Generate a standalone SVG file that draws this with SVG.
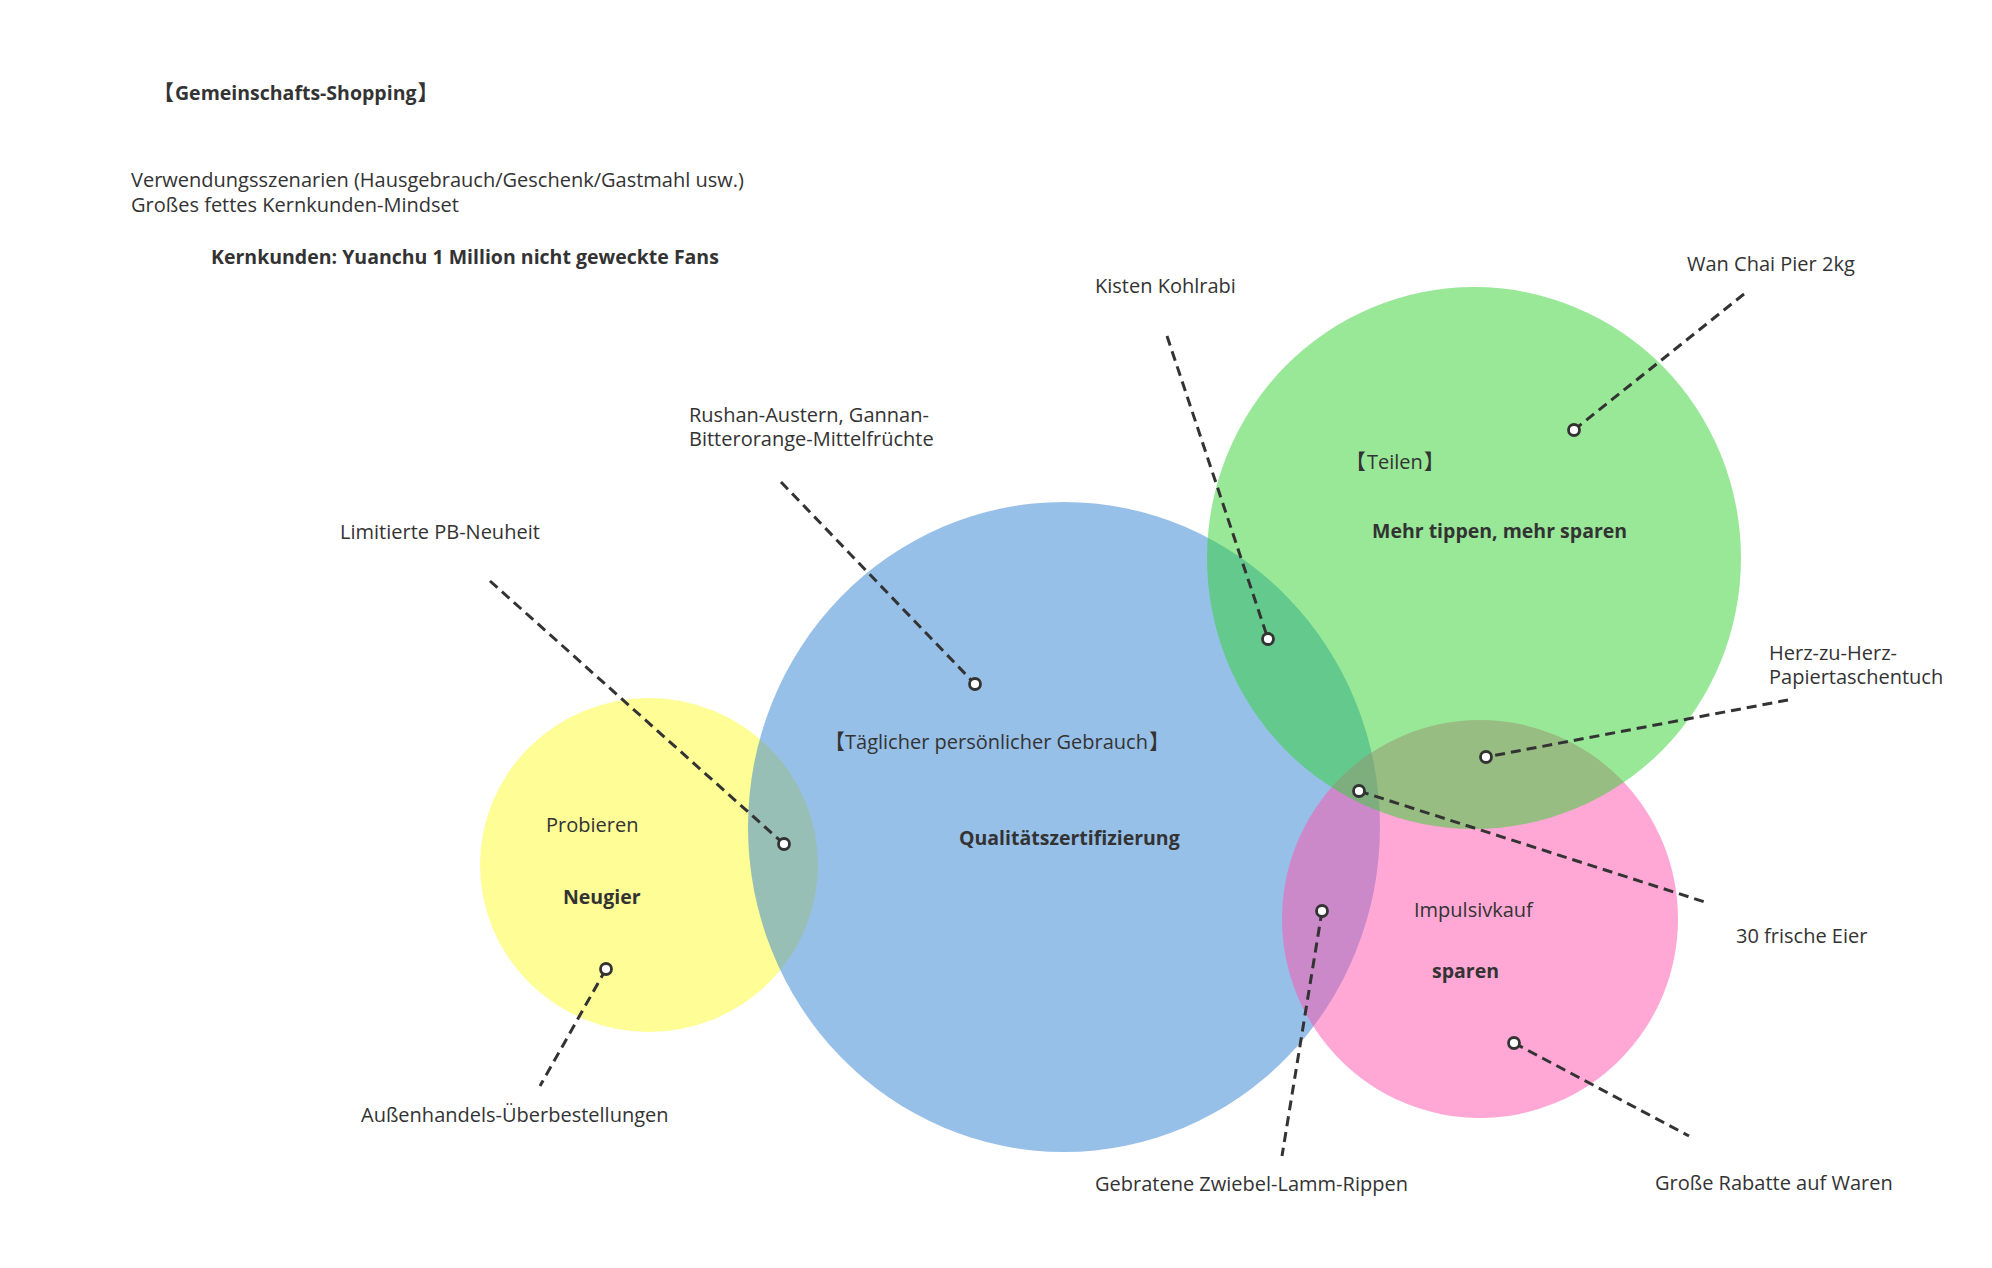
<svg xmlns="http://www.w3.org/2000/svg" width="1992" height="1268" viewBox="0 0 1992 1268">
<style>
  text { font-family: "Open Sans", "Noto Sans", "Noto Sans CJK SC", sans-serif; font-size: 20px; fill: #333333; }
  .b { font-weight: bold; font-size: 19.5px; }
  .br { font-size: 21px; }
  .set { fill-opacity: 0.5; stroke: none; }
  .conn { stroke: #333333; stroke-width: 3; stroke-dasharray: 10 6; fill: none; }
  .dot { fill: #ffffff; stroke: #333333; stroke-width: 2.8; }
</style>
<rect x="0" y="0" width="1992" height="1268" fill="#ffffff"/>

<g id="header">
  <text class="b" x="153" y="100"><tspan class="br">【</tspan><tspan dx="1">Gemeinschafts-Shopping</tspan><tspan class="br" dx="1">】</tspan></text>
  <text x="131" y="187">Verwendungsszenarien (Hausgebrauch/Geschenk/Gastmahl usw.)</text>
  <text x="131" y="212">Großes fettes Kernkunden-Mindset</text>
  <text class="b" x="211" y="264">Kernkunden: Yuanchu 1 Million nicht geweckte Fans</text>
</g>

<g id="set-neugier">
  <ellipse class="set" cx="649" cy="865" rx="169" ry="167" fill="#FDFB2D"/>
  <text x="546" y="832">Probieren</text>
  <text class="b" x="563" y="904">Neugier</text>
</g>

<g id="set-qualitaet">
  <ellipse class="set" cx="1064" cy="827" rx="316" ry="325" fill="#2F81D3"/>
  <text x="824" y="749"><tspan class="br">【</tspan>Täglicher persönlicher Gebrauch<tspan class="br" dx="1">】</tspan></text>
  <text class="b" x="959" y="845">Qualitätszertifizierung</text>
</g>

<g id="set-sparen">
  <ellipse class="set" cx="1480" cy="919" rx="198" ry="199" fill="#FF51AB"/>
  <text x="1414" y="917">Impulsivkauf</text>
  <text class="b" x="1432" y="978">sparen</text>
</g>

<g id="set-teilen">
  <ellipse class="set" cx="1474" cy="558" rx="267" ry="271" fill="#31D131"/>
  <text x="1345" y="469"><tspan class="br">【</tspan><tspan dx="1">Teilen</tspan><tspan class="br" dx="1">】</tspan></text>
  <text class="b" x="1372" y="538">Mehr tippen, mehr sparen</text>
</g>

<g id="connectors">
  <line class="conn" x1="490" y1="581" x2="784" y2="844"/>
  <line class="conn" x1="781" y1="482" x2="975" y2="684"/>
  <line class="conn" x1="1167" y1="336" x2="1268" y2="639"/>
  <line class="conn" x1="1744" y1="294" x2="1574" y2="430"/>
  <line class="conn" x1="1788" y1="700" x2="1486" y2="757"/>
  <line class="conn" x1="1359" y1="791" x2="1708" y2="903"/>
  <line class="conn" x1="606" y1="969" x2="540" y2="1086"/>
  <line class="conn" x1="1322" y1="911" x2="1282" y2="1156"/>
  <line class="conn" x1="1514" y1="1043" x2="1689" y2="1136"/>
  <circle class="dot" cx="784" cy="844" r="5.5"/>
  <circle class="dot" cx="975" cy="684" r="5.5"/>
  <circle class="dot" cx="1268" cy="639" r="5.5"/>
  <circle class="dot" cx="1574" cy="430" r="5.5"/>
  <circle class="dot" cx="1486" cy="757" r="5.5"/>
  <circle class="dot" cx="1359" cy="791" r="5.5"/>
  <circle class="dot" cx="606" cy="969" r="5.5"/>
  <circle class="dot" cx="1322" cy="911" r="5.5"/>
  <circle class="dot" cx="1514" cy="1043" r="5.5"/>
</g>

<g id="label-limitierte"><text x="340" y="539">Limitierte PB-Neuheit</text></g>
<g id="label-rushan">
  <text x="689" y="422">Rushan-Austern, Gannan-</text>
  <text x="689" y="446">Bitterorange-Mittelfrüchte</text>
</g>
<g id="label-kisten"><text x="1095" y="293">Kisten Kohlrabi</text></g>
<g id="label-wanchai"><text x="1687" y="271">Wan Chai Pier 2kg</text></g>
<g id="label-herz">
  <text x="1769" y="660">Herz-zu-Herz-</text>
  <text x="1769" y="684">Papiertaschentuch</text>
</g>
<g id="label-eier"><text x="1736" y="943">30 frische Eier</text></g>
<g id="label-aussenhandel"><text x="361" y="1122">Außenhandels-Überbestellungen</text></g>
<g id="label-gebratene"><text x="1095" y="1191">Gebratene Zwiebel-Lamm-Rippen</text></g>
<g id="label-rabatte"><text x="1655" y="1190">Große Rabatte auf Waren</text></g>
</svg>
